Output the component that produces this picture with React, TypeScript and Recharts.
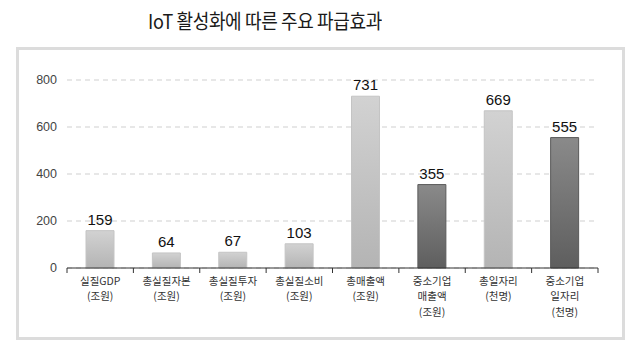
import React from "react";
import {
  BarChart,
  Bar,
  XAxis,
  YAxis,
  CartesianGrid,
  LabelList,
  Cell,
} from "recharts";

// category labels (one entry per line) and values
const categoryLines: string[][] = [
  ["실질GDP", "(조원)"],
  ["총실질자본", "(조원)"],
  ["총실질투자", "(조원)"],
  ["총실질소비", "(조원)"],
  ["총매출액", "(조원)"],
  ["중소기업", "매출액", "(조원)"],
  ["총일자리", "(천명)"],
  ["중소기업", "일자리", "(천명)"],
];
const values = [159, 64, 67, 103, 731, 355, 669, 555];
const darkBars = [false, false, false, false, false, true, false, true];
const yTicks = [0, 200, 400, 600, 800];

const data = categoryLines.map((lines, i) => ({
  name: lines.join(" "),
  value: values[i],
}));

const W = 640;
const H = 348;
const MARGIN = { top: 80, right: 42, bottom: 10, left: 20 };
const Y_WIDTH = 47;
const plotWidth = W - MARGIN.left - MARGIN.right - Y_WIDTH;
const band = plotWidth / categoryLines.length;

const CategoryTick = (props: any) => {
  const { x, y, index } = props;
  const lines = categoryLines[index] || [];
  const left = x - band / 2;
  const right = x + band / 2;
  return (
    <g>
      <line x1={left} y1={y} x2={left} y2={y + 5} stroke="#333" />
      {index === categoryLines.length - 1 && (
        <line x1={right} y1={y} x2={right} y2={y + 5} stroke="#333" />
      )}
      {lines.map((l, i) => (
        <text
          key={i}
          x={x}
          y={y + 17 + i * 15.3}
          textAnchor="middle"
          fill="#333"
          fontSize={10.5}
          fontFamily="'Noto Sans CJK KR', sans-serif"
        >
          {l}
        </text>
      ))}
    </g>
  );
};

export default function App() {
  return (
    <div
      style={{
        position: "absolute",
        left: 0,
        top: 0,
        width: W,
        height: H,
        background: "#fff",
        overflow: "hidden",
      }}
    >
      <div
        style={{
          position: "absolute",
          left: 0,
          top: 6,
          width: 530,
          textAlign: "center",
          fontFamily: "'Noto Sans CJK KR', sans-serif",
          fontSize: 20,
          fontWeight: 400,
          letterSpacing: -0.4,
          color: "#1a1a1a",
          transform: "scaleX(0.9)",
          transformOrigin: "265px 0",
        }}
      >
        IoT 활성화에 따른 주요 파급효과
      </div>
      <div
        style={{
          position: "absolute",
          left: 16,
          top: 47,
          width: 603,
          height: 287,
          border: "3px solid #dcdcdc",
        }}
      />
      <div style={{ position: "absolute", left: 0, top: 0 }}>
        <BarChart width={W} height={H} data={data} margin={MARGIN}>
          <defs>
            <linearGradient id="gradLight" x1="0" y1="0" x2="0" y2="1">
              <stop offset="0%" stopColor="#d2d2d2" />
              <stop offset="100%" stopColor="#b4b4b4" />
            </linearGradient>
            <linearGradient id="gradDark" x1="0" y1="0" x2="0" y2="1">
              <stop offset="0%" stopColor="#8a8a8a" />
              <stop offset="100%" stopColor="#5e5e5e" />
            </linearGradient>
          </defs>
          <CartesianGrid
            vertical={false}
            stroke="#cfcfcf"
            strokeDasharray="5 4"
          />
          <XAxis
            dataKey="name"
            axisLine={{ stroke: "#333" }}
            tickLine={false}
            tickSize={0}
            tickMargin={0}
            height={70}
            interval={0}
            tick={<CategoryTick />}
          />
          <YAxis
            width={Y_WIDTH}
            domain={[0, 800]}
            ticks={yTicks}
            axisLine={false}
            tickLine={false}
            tickMargin={4}
            tick={{
              fill: "#444",
              fontSize: 12.5,
              fontFamily: "'Liberation Sans', Arial, sans-serif",
            }}
          />
          <Bar dataKey="value" barSize={28} isAnimationActive={false}>
            {data.map((d, i) => (
              <Cell
                key={d.name}
                fill={darkBars[i] ? "url(#gradDark)" : "url(#gradLight)"}
                stroke={darkBars[i] ? "#5a5a5a" : "#c4c4c4"}
                strokeWidth={1}
              />
            ))}
            <LabelList
              dataKey="value"
              position="top"
              offset={6}
              fill="#111"
              fontSize={15}
              fontFamily="'Liberation Sans', Arial, sans-serif"
            />
          </Bar>
        </BarChart>
      </div>
    </div>
  );
}
